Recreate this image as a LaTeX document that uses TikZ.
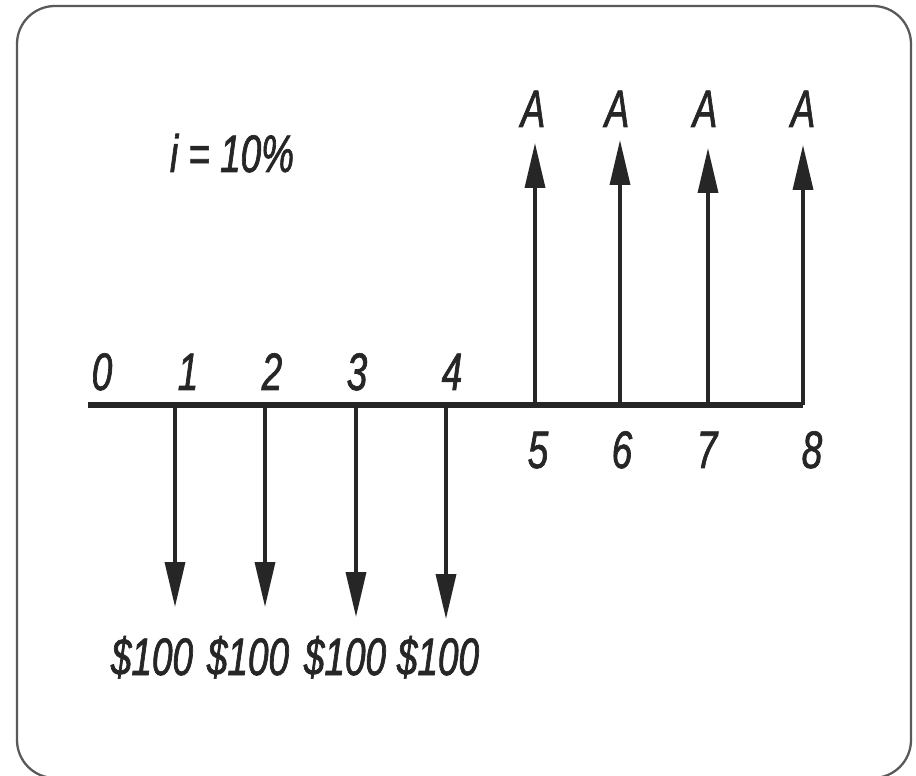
\documentclass[tikz,border=0pt]{standalone}
\usepackage{fontspec}
\setmainfont{Liberation Sans}[FakeStretch=0.7, FakeBold=1.3]
\usetikzlibrary{arrows.meta}
\begin{document}
\begin{tikzpicture}[x=0.02cm, y=-0.02cm,
    lbl/.style={font=\fontsize{30}{34}\selectfont\itshape, text=black!85, inner sep=0pt, anchor=base},
    flow/.style={-{Triangle[length=0.9cm, width=0.4cm]}, line width=2pt, draw=black!85},
    axis/.style={line width=2.9pt, draw=black!85},
  ]
    \useasboundingbox (0,0) rectangle (916,776);
    \draw[black!65, line width=1.3pt, rounded corners=0.76cm] (17,6) rectangle (911,778);

    % time axis
    \coordinate (t0) at (88,405);
    \coordinate (t1) at (175,405);
    \coordinate (t2) at (265,405);
    \coordinate (t3) at (356,405);
    \coordinate (t4) at (446,405);
    \coordinate (t5) at (535,405);
    \coordinate (t6) at (620,405);
    \coordinate (t7) at (708,405);
    \coordinate (t8) at (803,405);
    \draw[axis] (t0) -- (t8);

    \node[lbl] (n0) at (102,390) {0};
    \node[lbl] (n1) at (188,390) {1};
    \node[lbl] (n2) at (272,390) {2};
    \node[lbl] (n3) at (357,390) {3};
    \node[lbl] (n4) at (452,390) {4};
    \node[lbl] (n5) at (538,468) {5};
    \node[lbl] (n6) at (622,468) {6};
    \node[lbl] (n7) at (707,468) {7};
    \node[lbl] (n8) at (812,468) {8};

    \node[lbl] (rate) at (232,172) {i = 10\%};

    % payments
    \coordinate (d1) at (175,607);
    \coordinate (d2) at (265,607);
    \coordinate (d3) at (356,617);
    \coordinate (d4) at (446,619);
    \draw[flow] (t1) -- (d1);
    \draw[flow] (t2) -- (d2);
    \draw[flow] (t3) -- (d3);
    \draw[flow] (t4) -- (d4);
    \node[lbl] (p1) at (152,675) {\$100};
    \node[lbl] (p2) at (248,675) {\$100};
    \node[lbl] (p3) at (345,675) {\$100};
    \node[lbl] (p4) at (438,675) {\$100};

    % receipts
    \coordinate (u5) at (535,143);
    \coordinate (u6) at (620,140);
    \coordinate (u7) at (708,148);
    \coordinate (u8) at (803,145);
    \draw[flow] (t5) -- (u5);
    \draw[flow] (t6) -- (u6);
    \draw[flow] (t7) -- (u7);
    \draw[flow] (t8) -- (u8);
    \node[lbl] (a5) at (533,127) {A};
    \node[lbl] (a6) at (617,127) {A};
    \node[lbl] (a7) at (705,127) {A};
    \node[lbl] (a8) at (803,127) {A};
  \end{tikzpicture}
\end{document}
